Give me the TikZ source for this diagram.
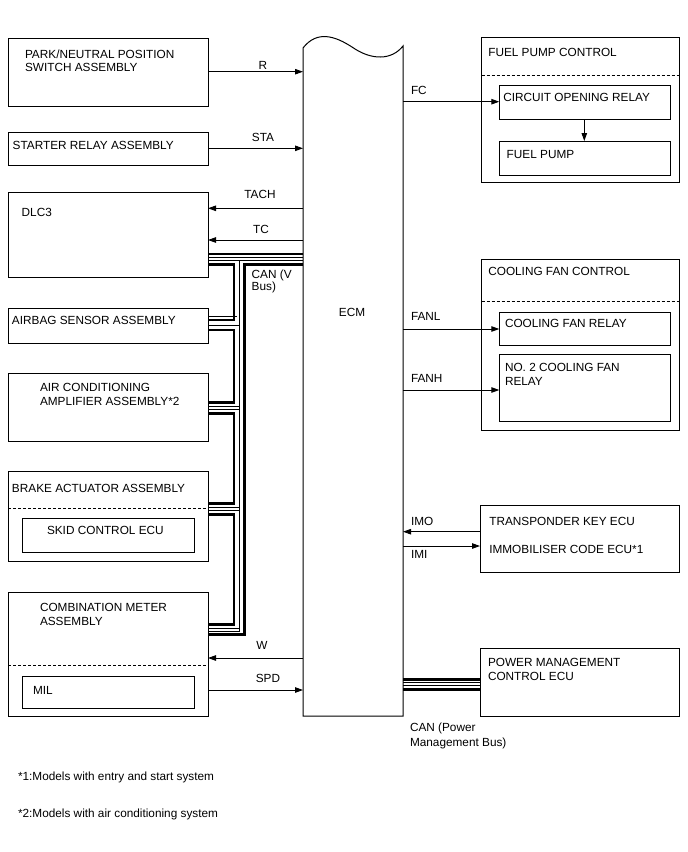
\documentclass[tikz,border=0pt]{standalone}
\usepackage{fontspec}
\setmainfont{Liberation Sans}
\usetikzlibrary{arrows.meta}
\begin{document}
\begin{tikzpicture}[x=1pt,y=-1pt,
  every node/.style={font=\fontsize{11.8}{13}\selectfont, inner sep=0pt, outer sep=0pt},
  box/.style={draw, line width=1pt, anchor=north west},
  lbl/.style={anchor=base west},
  clbl/.style={anchor=base},
  arr/.style={line width=0.9pt, -{Triangle[length=8pt,width=5.5pt]}},
  dsh/.style={line width=0.9pt, dash pattern=on 3pt off 2pt},
  canthick/.style={line width=2.6pt},
  canthin/.style={line width=0.9pt}]
\useasboundingbox (0,0) rectangle (688,852);

% ---- left boxes
\node[box, minimum width=200pt, minimum height=68pt] (pns) at (8,38) {};
\node[box, minimum width=200pt, minimum height=33pt] (sra) at (8,132) {};
\node[box, minimum width=200pt, minimum height=85pt] (dlc) at (8,192.7) {};
\node[box, minimum width=200pt, minimum height=35pt] (abg) at (8,308.3) {};
\node[box, minimum width=200pt, minimum height=68.4pt] (acm) at (8,373.3) {};
\node[box, minimum width=200pt, minimum height=90pt] (bra) at (8,471.7) {};
\node[box, minimum width=172pt, minimum height=34pt] (skid) at (22,518) {};
\node[box, minimum width=200pt, minimum height=124pt] (cmb) at (8,592.3) {};
\node[box, minimum width=172pt, minimum height=32pt] (mil) at (22,676) {};

% ---- right boxes
\node[box, minimum width=198pt, minimum height=145pt] (fpc) at (481.5,37.3) {};
\node[box, minimum width=170.7pt, minimum height=34.3pt] (cor) at (499.3,85) {};
\node[box, minimum width=170.7pt, minimum height=34.7pt] (fp) at (499.3,141) {};
\node[box, minimum width=198pt, minimum height=171pt] (cfc) at (481.5,259) {};
\node[box, minimum width=170.7pt, minimum height=33.4pt] (cfr) at (499.3,312.3) {};
\node[box, minimum width=170.7pt, minimum height=67.4pt] (cf2) at (499.3,354.3) {};
\node[box, minimum width=199.5pt, minimum height=67.7pt] (tke) at (480,505) {};
\node[box, minimum width=199.5pt, minimum height=68.4pt] (pmc) at (480,648.3) {};

% ---- ECM
\node[anchor=south west, minimum width=100pt, minimum height=668pt] (ecm) at (303,716) {};
\draw[line width=1pt] (ecm.south west) -- (303,48)
  .. controls (317,30) and (335,36) .. (352,47)
  .. controls (372,61) and (392,60) .. (403,46) -- (ecm.south east) -- cycle;
\node[clbl] (ecmT) at (352,316) {ECM};

% ---- dashed separators
\draw[dsh] (fpc.west |- 0,75) -- (fpc.east |- 0,75);
\draw[dsh] (cfc.west |- 0,301.7) -- (cfc.east |- 0,301.7);
\draw[dsh] (bra.west |- 0,508.3) -- (bra.east |- 0,508.3);
\draw[dsh] (cmb.west |- 0,665) -- (cmb.east |- 0,665);

% ---- box texts
\node[lbl] (t1a) at (25,58.3) {PARK/NEUTRAL POSITION};
\node[lbl] (t1b) at (25,71.3) {SWITCH ASSEMBLY};
\node[lbl] (t2) at (12.7,149) {STARTER RELAY ASSEMBLY};
\node[lbl] (t3) at (21.7,216.7) {DLC3};
\node[lbl] (t4) at (12,324.5) {AIRBAG SENSOR ASSEMBLY};
\node[lbl] (t5a) at (40,391) {AIR CONDITIONING};
\node[lbl] (t5b) at (40,405) {AMPLIFIER ASSEMBLY*2};
\node[lbl] (t6) at (12,492) {BRAKE ACTUATOR ASSEMBLY};
\node[lbl] (t7) at (47,534) {SKID CONTROL ECU};
\node[lbl] (t8a) at (40,611) {COMBINATION METER};
\node[lbl] (t8b) at (40,625) {ASSEMBLY};
\node[lbl] (t9) at (33,694) {MIL};
\node[lbl] (r1) at (488.3,56.7) {FUEL PUMP CONTROL};
\node[lbl] (r2) at (503.3,101.7) {CIRCUIT OPENING RELAY};
\node[lbl] (r3) at (506.7,158.3) {FUEL PUMP};
\node[lbl] (r4) at (488.3,275) {COOLING FAN CONTROL};
\node[lbl] (r5) at (505,327.7) {COOLING FAN RELAY};
\node[lbl] (r6a) at (505,371) {NO. 2 COOLING FAN};
\node[lbl] (r6b) at (505,385) {RELAY};
\node[lbl] (r7a) at (489.3,525) {TRANSPONDER KEY ECU};
\node[lbl] (r7b) at (489.3,553) {IMMOBILISER CODE ECU*1};
\node[lbl] (r8a) at (488,666) {POWER MANAGEMENT};
\node[lbl] (r8b) at (488,680) {CONTROL ECU};

% ---- signal arrows, left
\draw[arr] (pns.east |- 0,71.7) -- (ecm.west |- 0,71.7);
\node[clbl] (lR) at (263,69) {R};
\draw[arr] (sra.east |- 0,148.3) -- (ecm.west |- 0,148.3);
\node[clbl] (lSTA) at (263,141.7) {STA};
\draw[arr] (ecm.west |- 0,208.3) -- (dlc.east |- 0,208.3);
\node[clbl] (lTACH) at (260,198.3) {TACH};
\draw[arr] (ecm.west |- 0,240) -- (dlc.east |- 0,240);
\node[clbl] (lTC) at (261,233.3) {TC};
\draw[arr] (ecm.west |- 0,658) -- (cmb.east |- 0,658);
\node[clbl] (lW) at (262,649) {W};
\draw[arr] (cmb.east |- 0,690) -- (ecm.west |- 0,690);
\node[clbl] (lSPD) at (268,682) {SPD};

% ---- signal arrows, right
\draw[arr] (ecm.east |- 0,101.7) -- (cor.west |- 0,101.7);
\node[lbl] (lFC) at (411,94) {FC};
\draw[arr] (cor.south -| 584.3,0) -- (fp.north -| 584.3,0);
\draw[arr] (ecm.east |- 0,329) -- (cfr.west |- 0,329);
\node[lbl] (lFANL) at (411,320) {FANL};
\draw[arr] (ecm.east |- 0,390) -- (cf2.west |- 0,390);
\node[lbl] (lFANH) at (411,382) {FANH};
\draw[arr] (tke.west |- 0,531.7) -- (ecm.east |- 0,531.7);
\node[lbl] (lIMO) at (411,525) {IMO};
\draw[arr] (ecm.east |- 0,546) -- (tke.west |- 0,546);
\node[lbl] (lIMI) at (411,558) {IMI};

% ---- CAN (V Bus)
\coordinate (xL) at (234,0);
\coordinate (xM) at (239.5,0);
\coordinate (xR) at (244.5,0);
\draw[canthick] (dlc.east |- 0,253.8) -- (ecm.west |- 0,253.8);
\draw[canthin] (dlc.east |- 0,257.4) -- (ecm.west |- 0,257.4);
\draw[canthin] (dlc.east |- 0,260.5) -- (ecm.west |- 0,260.5);
\draw[canthick] (dlc.east |- 0,264.2) -- (xL |- 0,264.2) -- (xL |- 0,320) -- (abg.east |- 0,320);
\draw[canthick] (abg.east |- 0,330) -- (xL |- 0,330) -- (xL |- 0,402.5) -- (acm.east |- 0,402.5);
\draw[canthick] (acm.east |- 0,413.7) -- (xL |- 0,413.7) -- (xL |- 0,503.3) -- (bra.east |- 0,503.3);
\draw[canthick] (bra.east |- 0,514.3) -- (xL |- 0,514.3) -- (xL |- 0,624.3) -- (cmb.east |- 0,624.3);
\draw[canthick] (ecm.west |- 0,264.2) -- (xR |- 0,264.2) -- (xR |- 0,634.3) -- (cmb.east |- 0,634.3);
\draw[canthin] (xM |- 0,260.5) -- (xM |- 0,631.7);
\draw[canthin] (abg.east |- 0,316) -- (237,316);
\draw[canthin] (abg.east |- 0,325) -- (xM |- 0,325);
\draw[canthin] (acm.east |- 0,406) -- (xM |- 0,406);
\draw[canthin] (acm.east |- 0,409.3) -- (xM |- 0,409.3);
\draw[canthin] (bra.east |- 0,507.3) -- (xM |- 0,507.3);
\draw[canthin] (bra.east |- 0,510.7) -- (xM |- 0,510.7);
\draw[canthin] (cmb.east |- 0,628.3) -- (xM |- 0,628.3);
\draw[canthin] (cmb.east |- 0,631.7) -- (xM |- 0,631.7);
\node[lbl] (lCANa) at (251.7,278.3) {CAN (V};
\node[lbl] (lCANb) at (251.7,290) {Bus)};

% ---- CAN (Power Management Bus)
\draw[canthick] (ecm.east |- 0,679.5) -- (pmc.west |- 0,679.5);
\draw[canthin] (ecm.east |- 0,682.9) -- (pmc.west |- 0,682.9);
\draw[canthin] (ecm.east |- 0,685.9) -- (pmc.west |- 0,685.9);
\draw[canthick] (ecm.east |- 0,689.3) -- (pmc.west |- 0,689.3);
\node[lbl] (lPMa) at (410,731.7) {CAN (Power};
\node[lbl] (lPMb) at (410,746) {Management Bus)};

% ---- footnotes
\node[lbl] (fn1) at (18,780) {*1:Models with entry and start system};
\node[lbl] (fn2) at (18,817) {*2:Models with air conditioning system};
\end{tikzpicture}
\end{document}
